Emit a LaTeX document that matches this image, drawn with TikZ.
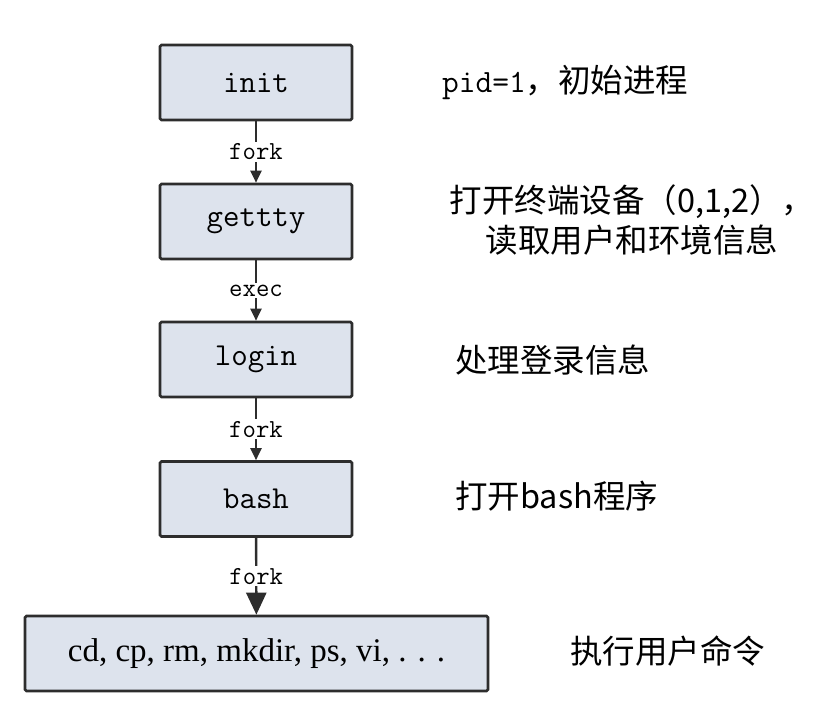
\documentclass[tikz,border=0pt]{standalone}
\usepackage{fontspec}
\newfontfamily\cjk{Noto Sans CJK SC}
\newfontfamily\serif{Liberation Serif}
\usetikzlibrary{arrows.meta}
\definecolor{boxfill}{RGB}{221,227,237}
\definecolor{boxline}{RGB}{45,45,45}

\begin{document}
\begin{tikzpicture}[x=1pt,y=-1pt,
    proc/.style={draw=boxline,fill=boxfill,line width=2.6pt,rounded corners=1.5pt,
                 minimum width=192pt,minimum height=75pt,inner sep=0pt,
                 font=\ttfamily\fontsize{32}{34}\selectfont},
    flow/.style={line width=2.4pt,draw=boxline,-{Triangle[length=12pt,width=11pt]}},
    bigflow/.style={line width=2.4pt,draw=boxline,-{Triangle[length=22pt,width=20pt]}},
    lbl/.style={fill=white,inner sep=2pt,font=\ttfamily\fontsize{26}{28}\selectfont},
    note/.style={anchor=west,inner sep=0pt,font=\cjk\fontsize{32.5}{40}\selectfont}]
    \useasboundingbox (0,0) rectangle (823,717);
    \def\cx{256}
    \node[proc] (init)  at (\cx, 82.5) {init};
    \node[proc] (getty) at (\cx,221.5) {gettty};
    \node[proc] (login) at (\cx,359.5) {login};
    \node[proc] (bash)  at (\cx,499)   {bash};
    \node[proc,minimum width=463pt,font=\serif\fontsize{33}{35}\selectfont] (cmds) at (256.5,653.5) {cd, cp, rm, mkdir, ps, vi, . . .};
    \draw[flow] (init) -- node[lbl]{fork} (getty);
    \draw[flow] (getty) -- node[lbl]{exec} (login);
    \draw[flow] (login) -- node[lbl]{fork} (bash);
    \draw[bigflow] (bash) -- node[lbl]{fork} (cmds);
    % notes on the right
    \node[note] (n1) at (442,82) {{\ttfamily pid=1}，初始进程};
    \node[note,anchor=center,align=center] (n2) at (632,220) {打开终端设备（0,1,2），\\读取用户和环境信息};
    \node[note] (n3) at (455,360) {处理登录信息};
    \node[note] (n4) at (455,496) {打开bash程序};
    \node[note] (n5) at (570,651) {执行用户命令};
\end{tikzpicture}
\end{document}
